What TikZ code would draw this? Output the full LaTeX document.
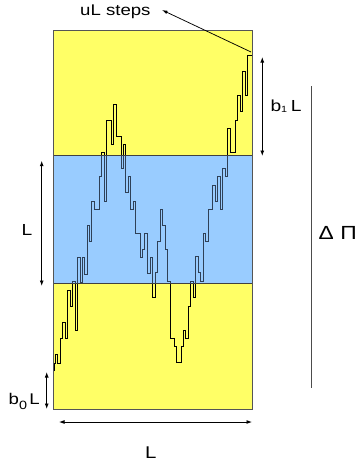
\documentclass[tikz,border=0pt]{standalone}
\usepackage{fontspec}
\setmainfont{Liberation Sans}
\usetikzlibrary{arrows.meta}
\definecolor{ylw}{HTML}{FFFF66}
\definecolor{blu}{HTML}{99CCFF}
\definecolor{walkblue}{HTML}{2E4057}
\definecolor{edgegray}{HTML}{555555}
\def\walkpath{(54.3,371) -- (54.3,363)
 -| (55.7,354.5) -| (57.7,363) -| (60,338.3) -| (62.3,322.5) -| (65,338.3)
 -| (67.5,290) -| (70,306) -| (72.3,281.7) -| (75,330) -| (77.3,257.5)
 -| (80,282) -| (82.3,257.5) -| (84.8,274) -| (87,225.7) -| (89.3,241.5)
 -| (91.8,201) -| (94.3,209.3) -| (99.3,176.7) -| (101.7,152.3) -| (104,201)
 -| (106.3,120) -| (111.3,144.3) -| (113.7,104) -| (116,136) -| (121,168.3)
 -| (123.3,144.3) -| (125.7,192.7) -| (128.3,176.7) -| (130.7,209) -| (133,201)
 -| (135.3,233.3) -| (140,257.3) -| (142.5,249.5) -| (144.8,233.3) -| (147.3,273.3)
 -| (150,257) -| (152.3,297.7) -| (155,272.7) -| (157.3,241.7) -| (160,209)
 -| (162.3,225) -| (165,249.3) -| (167.3,281.7) -| (170,338.3) -| (174.3,346)
 -| (176.7,362.3) -| (181,346) -| (183.3,330) -| (185.7,338.3) -| (188.3,306)
 -| (190.7,281.7) -| (193.3,297.3) -| (195.7,256.7) -| (198.3,272.7) -| (200.7,281.7)
 -| (203.3,233.3) -| (205.7,241.7) -| (208.3,209.3) -| (212.3,185) -| (215,201)
 -| (217.3,176.7) -| (220,209) -| (222.3,168.3) -| (225,176.7) -| (227.3,128.3)
 -| (230,152.3) -| (235,120) -| (237.3,95.7) -| (240,111.7) -| (242.3,71.7)
 -| (245,95.7) -| (247.3,55) -- (252.3,55)}
\begin{document}
\begin{tikzpicture}[x=1pt,y=-1pt,
  tip/.style={Latex[length=5.5pt,width=4pt]},
  dimarrow/.style={line width=0.9pt,{Latex[length=5.5pt,width=4pt]}-{Latex[length=5.5pt,width=4pt]}},
  walk/.style={line width=0.75pt,line join=miter},
  lbl/.style={inner sep=0pt,anchor=base west,xscale=1.2}]
\useasboundingbox (0,0) rectangle (358,466);
% regions
\fill[ylw] (53.3,30) rectangle (252.7,409.3);
\fill[blu] (53.3,155.7) rectangle (252.7,283.3);
% random walk
\draw[walk,black] \walkpath;
\begin{scope}
  \clip (53.3,156.3) rectangle (252.7,282.7);
  \draw[walk,walkblue] \walkpath;
\end{scope}
% band edges and frame
\draw[line width=1pt,black!75] (53.3,155.7) -- (252.7,155.7);
\draw[line width=1pt,black!75] (53.3,283.3) -- (252.7,283.3);
\draw[edgegray,line width=0.8pt] (53.3,30) rectangle (252.7,409.3);
% labels
\node[lbl,font=\fontsize{15.5}{18}\selectfont] (ul) at (80,15) {uL steps};
\node[lbl,font=\fontsize{16}{18}\selectfont] (b1l) at (270.3,111.7) {b{\fontsize{9}{9}\selectfont\raisebox{-1pt}{1}}\hspace{3pt}L};
\node[lbl,font=\fontsize{16}{18}\selectfont] (lleft) at (21.3,235) {L};
\node[lbl,font=\fontsize{19}{22}\selectfont] (dp) at (318.5,239.3) {Δ Π};
\node[lbl,font=\fontsize{15.5}{18}\selectfont] (b0l) at (8.5,404.3) {b{\fontsize{12}{12}\selectfont\raisebox{-5.5pt}{0}}\hspace{2pt}L};
\node[lbl,font=\fontsize{17}{20}\selectfont] (lbot) at (145,458.3) {L};
% dimension arrows
\coordinate (b1a) at (262.3,57);
\coordinate (b1b) at (262.3,156);
\draw[dimarrow] (b1a) -- (b1b);
\coordinate (la) at (41.7,160.7);
\coordinate (lb) at (41.7,286);
\draw[dimarrow] (la) -- (lb);
\coordinate (b0a) at (46.7,372);
\coordinate (b0b) at (46.7,409);
\draw[dimarrow] (b0a) -- (b0b);
\coordinate (wa) at (59,422);
\coordinate (wb) at (252,422);
\draw[dimarrow] (wa) -- (wb);
\coordinate (pa) at (311.7,86);
\coordinate (pb) at (311.7,388);
\draw[line width=0.9pt,black!70] (pa) -- (pb);
\coordinate (ulfrom) at (251,52);
\coordinate (ultip) at (162,10);
\draw[line width=0.75pt,-{Latex[length=5.5pt,width=3.5pt]}] (ulfrom) -- (ultip);
\end{tikzpicture}
\end{document}
